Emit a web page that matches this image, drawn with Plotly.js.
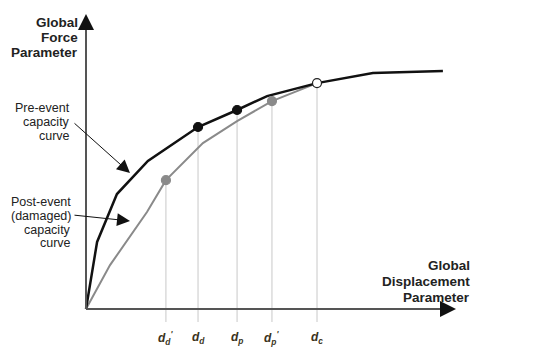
<!DOCTYPE html>
<html><head><meta charset="utf-8">
<script src="https://cdn.plot.ly/plotly-3.0.1.min.js"></script>
<style>html,body{margin:0;padding:0;background:#fff}#chart{width:548px;height:347px}</style>
</head><body><div id="chart"></div>
<script>
// Pre-event (undamaged) capacity curve
const preX = [0, 0.48, 1.34, 2.68, 4.85, 6.54, 7.84, 10.0, 12.42, 15.45];
const preY = [0, 2.17, 3.72, 4.79, 5.89, 6.44, 6.89, 7.31, 7.64, 7.70];
// Post-event (damaged) capacity curve
const postX = [0, 1.04, 2.64, 3.46, 5.06, 6.54, 8.05, 10.0];
const postY = [0, 1.42, 3.14, 4.17, 5.37, 6.08, 6.73, 7.31];
// Marked displacement points
const dX = [3.46, 4.85, 6.54, 8.05, 10.0];
const dY = [4.17, 5.89, 6.44, 6.73, 7.31];
const dLabels = ["d<sub>d</sub><sup>'</sup>", "d<sub>d</sub>", "d<sub>p</sub>", "d<sub>p</sub><sup>'</sup>", "d<sub>c</sub>"];
const dKind = ["post", "pre", "pre", "post", "both"];
const yLabel = ["Global", "Force", "Parameter"];
const xLabel = ["Global", "Displacement", "Parameter"];
const preLabel = ["Pre-event", "capacity", "curve"];
const postLabel = ["Post-event", "(damaged)", "capacity", "curve"];

// pixel helpers for layout (layout only, not data)
const X0 = -86/23.1, X1 = (548-86)/23.1, Y0 = -38/30.9, Y1 = 309/30.9;
const px = p => (p-86)/23.1, py = p => (309-p)/30.9;

const traces = [];
// drop lines
const shapes = dX.map((x,i)=>({type:'line', xref:'x', yref:'y', x0:x, x1:x, y0:dY[i], y1:py(322), line:{color:'#c8c8c8', width:1}, layer:'below'}));
// axes
shapes.push({type:'line', xref:'x', yref:'y', x0:0, x1:0, y0:0, y1:py(24), line:{color:'#555', width:2}});
shapes.push({type:'line', xref:'x', yref:'y', x0:0, x1:px(445), y0:0, y1:0, line:{color:'#555', width:2}});

traces.push({x:postX, y:postY, mode:'lines', line:{color:'#8a8a8a', width:2}, hoverinfo:'skip'});
traces.push({x:preX, y:preY, mode:'lines', line:{color:'#111', width:2.5}, hoverinfo:'skip'});
const colors = {post:'#8a8a8a', pre:'#111', both:'#fff'};
traces.push({x:dX, y:dY, mode:'markers', marker:{size:9, color:dKind.map(k=>colors[k]), line:{color:dKind.map(k=>k==='both'?'#222':colors[k]), width:1.2}}, hoverinfo:'skip'});

const ann = [];
const font = (sz,b)=>({family:'Liberation Sans, Arial, sans-serif', size:sz, color:'#222', weight: b?'bold':'normal'});
// axis arrowheads
ann.push({x:0, y:py(14), ax:0, ay:py(30), axref:'x', ayref:'y', xref:'x', yref:'y', text:'', showarrow:true, arrowhead:2, arrowsize:1.6, arrowwidth:2, arrowcolor:'#111'});
ann.push({x:px(456), y:0, ax:px(440), ay:0, axref:'x', ayref:'y', xref:'x', yref:'y', text:'', showarrow:true, arrowhead:2, arrowsize:1.6, arrowwidth:2, arrowcolor:'#111'});
// leader arrows
ann.push({x:px(130), y:py(173), ax:px(73), ay:py(122), axref:'x', ayref:'y', xref:'x', yref:'y', text:'', showarrow:true, arrowhead:2, arrowsize:2.6, arrowwidth:1, arrowcolor:'#111'});
ann.push({x:px(130), y:py(221), ax:px(73), ay:py(215), axref:'x', ayref:'y', xref:'x', yref:'y', text:'', showarrow:true, arrowhead:2, arrowsize:2.6, arrowwidth:1, arrowcolor:'#111'});
// text blocks
const yLy = [22, 37.5, 52.5];
yLabel.forEach((t,i)=>ann.push({x:px(80), y:py(yLy[i]), xref:'x', yref:'y', xanchor:'right', yanchor:'middle', text:t, showarrow:false, font:font(13.5,true)}));
const xLy = [265, 281, 297];
xLabel.forEach((t,i)=>ann.push({x:px(472), y:py(xLy[i]), xref:'x', yref:'y', xanchor:'right', yanchor:'middle', text:t, showarrow:false, font:font(13.5,true)}));
const preLy = [108, 122, 136];
preLabel.forEach((t,i)=>ann.push({x:px(72), y:py(preLy[i]), xref:'x', yref:'y', xanchor:'right', yanchor:'middle', text:t, showarrow:false, font:font(12.5,false)}));
const postLy = [202, 216, 229.5, 243];
postLabel.forEach((t,i)=>ann.push({x:px(73), y:py(postLy[i]), xref:'x', yref:'y', xanchor:'right', yanchor:'middle', text:t, showarrow:false, font:font(12.5,false)}));
// d labels
dX.forEach((x,i)=>ann.push({x:x, y:py(338), xref:'x', yref:'y', xanchor:'center', yanchor:'middle', text:'<i>'+dLabels[i]+'</i>', showarrow:false, font:{family:'Liberation Sans, Arial, sans-serif', size:12, color:'#3a3320', weight:'bold'}}));

const layout = {
  width:548, height:347, margin:{l:0,r:0,t:0,b:0}, paper_bgcolor:'#fff', plot_bgcolor:'#fff', showlegend:false,
  xaxis:{range:[X0,X1], visible:false, fixedrange:true},
  yaxis:{range:[Y0,Y1], visible:false, fixedrange:true},
  shapes:shapes, annotations:ann
};
Plotly.newPlot('chart', traces, layout, {displayModeBar:false, staticPlot:true});
</script></body></html>
